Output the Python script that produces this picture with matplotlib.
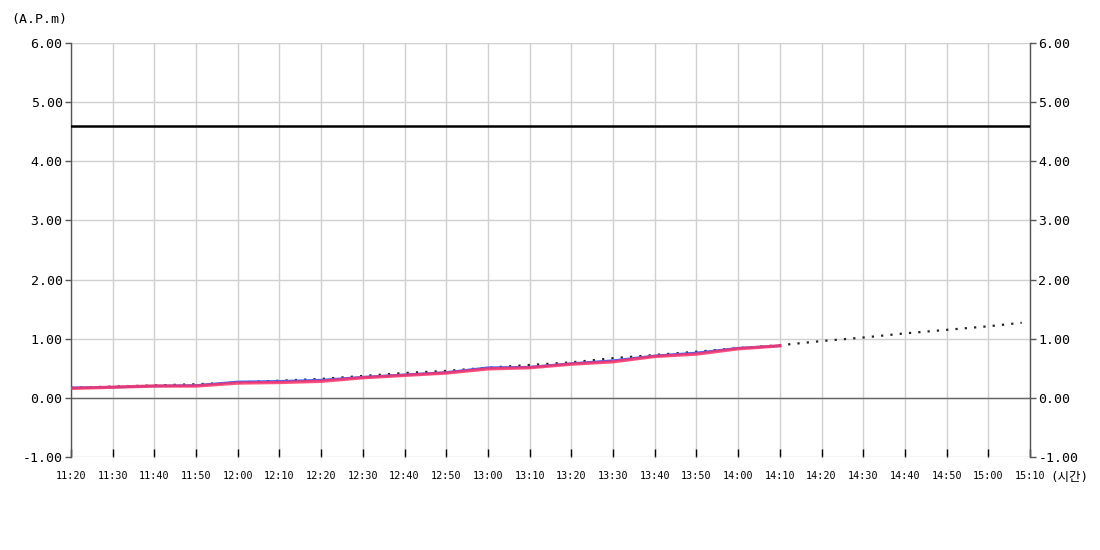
import matplotlib
matplotlib.use("Agg")
import matplotlib.pyplot as plt
import numpy as np

plt.rcParams["font.family"] = ["DejaVu Sans Mono", "Noto Sans CJK KR"]

# ---------------------------------------------------------------------------
# Data
# ---------------------------------------------------------------------------

times = ["11:20", "11:30", "11:40", "11:50", "12:00", "12:10", "12:20",
         "12:30", "12:40", "12:50", "13:00", "13:10", "13:20", "13:30",
         "13:40", "13:50", "14:00", "14:10"]
red_values = [0.16, 0.18, 0.20, 0.20, 0.25, 0.26, 0.28, 0.34, 0.38, 0.42,
              0.49, 0.51, 0.57, 0.61, 0.70, 0.74, 0.83, 0.88]
blue_values = [0.17, 0.18, 0.20, 0.21, 0.27, 0.28, 0.30, 0.35, 0.39, 0.43,
               0.51, 0.52, 0.58, 0.63, 0.71, 0.76, 0.84, 0.88]

trend_times = ["11:20", "11:30", "11:40", "11:50", "12:00", "12:10", "12:20",
               "12:30", "12:40", "12:50", "13:00", "13:10", "13:20", "13:30",
               "13:40", "13:50", "14:00", "14:10", "14:20", "14:30", "14:40",
               "14:50", "15:00", "15:08"]
trend_values = [0.17, 0.19, 0.21, 0.23, 0.26, 0.29, 0.32, 0.37, 0.42, 0.455,
                0.51, 0.556, 0.60, 0.67, 0.725, 0.78, 0.84, 0.89, 0.96, 1.02,
                1.09, 1.15, 1.21, 1.27]

limit_value = 4.60

tick_times = ["11:20", "11:30", "11:40", "11:50", "12:00", "12:10", "12:20",
              "12:30", "12:40", "12:50", "13:00", "13:10", "13:20", "13:30",
              "13:40", "13:50", "14:00", "14:10", "14:20", "14:30", "14:40",
              "14:50", "15:00", "15:10"]
y_ticks = [-1, 0, 1, 2, 3, 4, 5, 6]


def to_minutes(t):
    h, m = t.split(":")
    return int(h) * 60 + int(m)


t0 = to_minutes(tick_times[0])
x_main = np.array([to_minutes(t) - t0 for t in times])
x_trend = np.array([to_minutes(t) - t0 for t in trend_times])
x_ticks = np.array([to_minutes(t) - t0 for t in tick_times])

# ---------------------------------------------------------------------------
# Plot
# ---------------------------------------------------------------------------

fig = plt.figure(figsize=(11, 5.5), dpi=100)
ax = fig.add_axes([0.0645, 0.1691, 0.8719, 0.7527])

ax.set_xlim(x_ticks[0], x_ticks[-1])
ax.set_ylim(-1, 6)

ax.set_xticks(x_ticks)
ax.set_xticklabels(tick_times, fontsize=7.3)
ax.set_yticks(y_ticks)
ax.set_yticklabels([f"{v:.2f}" for v in y_ticks], fontsize=9.5)

ax.grid(True, color="#d0d0d0", linewidth=1)
ax.set_axisbelow(True)

for side in ("top", "bottom"):
    ax.spines[side].set_visible(False)
for side in ("left", "right"):
    ax.spines[side].set_color("#555555")
    ax.spines[side].set_linewidth(1)

ax.tick_params(axis="x", direction="in", length=6, width=1, color="black",
               pad=10)
ax.tick_params(axis="y", direction="out", length=4, width=1, color="#555555",
               left=True, right=True, labelleft=True, labelright=True, pad=2)

ax.axhline(0, color="#666666", linewidth=1, zorder=2)
ax.axhline(limit_value, color="black", linewidth=1.8, zorder=3)

ax.plot(x_trend, trend_values, color="#222222", linewidth=1.6,
        linestyle=(0, (1, 3.2)), zorder=4)
ax.plot(x_main, blue_values, color="#3366ff", linewidth=1.8, zorder=5)
ax.plot(x_main, red_values, color="#ff3366", linewidth=2.4, alpha=0.85,
        zorder=6)

fig.text(0.01, 0.965, "(A.P.m)", fontsize=9.5, ha="left", va="center")
fig.text(0.955, 0.132, "(시간)", fontsize=9, ha="left", va="center")

fig.savefig("out.png", dpi=100)
